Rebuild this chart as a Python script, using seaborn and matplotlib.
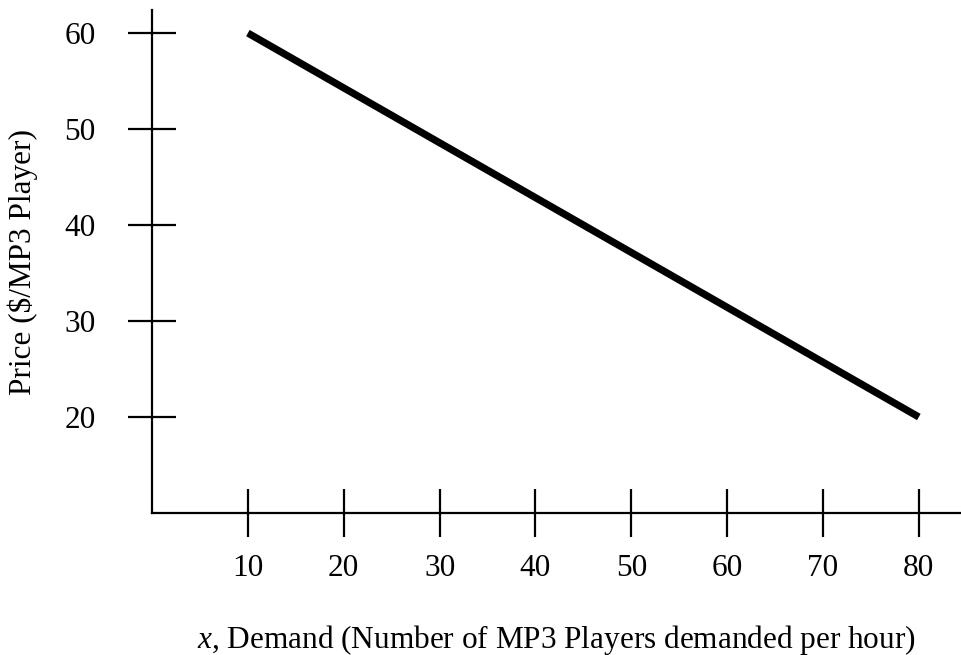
import matplotlib
matplotlib.use("Agg")
import pandas as pd
import seaborn as sns
import matplotlib.pyplot as plt

# demand line endpoints
demand = [10, 80]
price = [60, 20]

x_ticks = [10, 20, 30, 40, 50, 60, 70, 80]
y_ticks = [20, 30, 40, 50, 60]

x_label = r"$x$, Demand (Number of MP3 Players demanded per hour)"
y_label = r"Price (\$/MP3 Player)"

sns.set_style("ticks")
plt.rcParams["font.family"] = ["Liberation Serif", "DejaVu Serif"]
plt.rcParams["mathtext.fontset"] = "custom"
plt.rcParams["mathtext.rm"] = "Liberation Serif"
plt.rcParams["mathtext.it"] = "Liberation Serif:italic"

df = pd.DataFrame({"demand": demand, "price": price})

fig = plt.figure(figsize=(9.61, 6.55), dpi=100)
ax = fig.add_axes([0.1582, 0.2168, 0.8418, 0.7679])

sns.lineplot(data=df, x="demand", y="price", color="black", linewidth=5.2,
             solid_capstyle="butt", ax=ax)

ax.set_xlim(0, 84.4)
ax.set_ylim(10, 62.4)
ax.set_xticks(x_ticks)
ax.set_yticks(y_ticks)
ax.set_xticklabels([str(t) for t in x_ticks])
ax.set_yticklabels([str(t) for t in y_ticks])

for side in ["top", "right"]:
    ax.spines[side].set_visible(False)
for side in ["left", "bottom"]:
    ax.spines[side].set_linewidth(1.6)
    ax.spines[side].set_color("black")

ax.tick_params(axis="both", direction="inout", length=35, width=1.6,
               colors="black", labelsize=22.5)
ax.tick_params(axis="y", pad=23)
ax.tick_params(axis="x", pad=12)

ax.set_xlabel(x_label, fontsize=22.5, color="black")
ax.set_ylabel(y_label, fontsize=22.5, color="black")
ax.xaxis.set_label_coords(0.5, -0.218)
ax.yaxis.set_label_coords(-0.141, 0.5)

fig.savefig("out.png", dpi=100)
